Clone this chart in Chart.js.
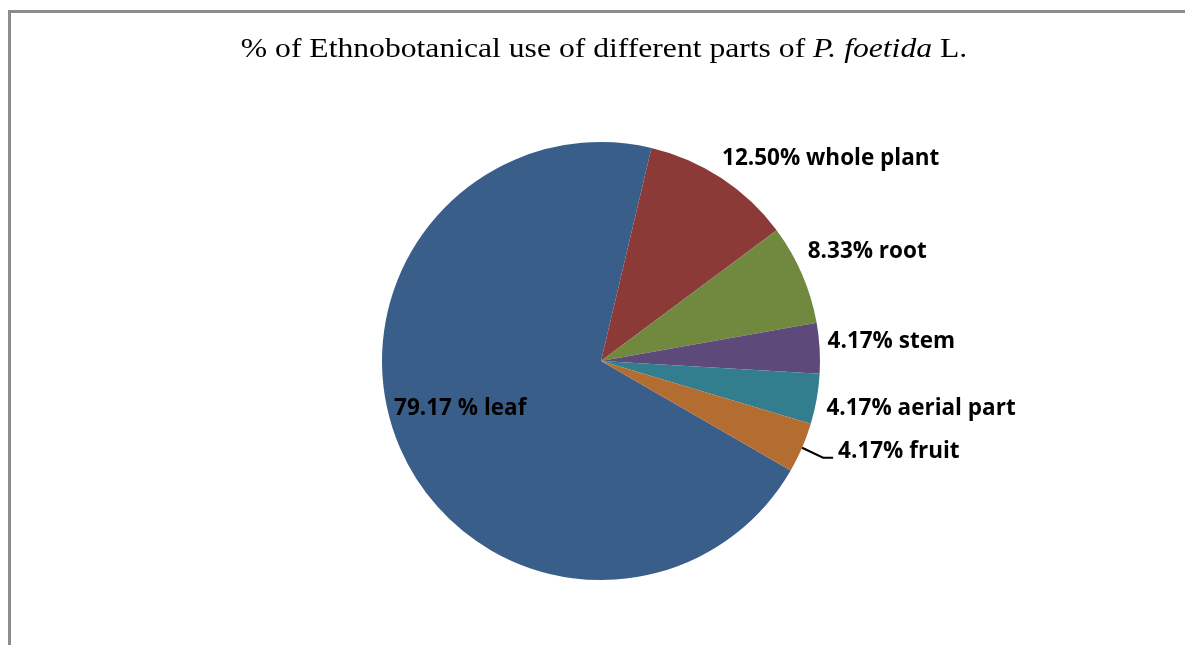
<!DOCTYPE html>
<html>
<head>
<meta charset="utf-8">
<script src="https://cdn.jsdelivr.net/npm/chart.js@4.4.1/dist/chart.umd.min.js"></script>
<style>
  html, body { margin: 0; padding: 0; background: #fff; overflow: hidden; }
  #frame {
    position: absolute; left: 8px; top: 10px; width: 1300px; height: 800px;
    border-left: 3px solid #8c8c8c; border-top: 3px solid #8c8c8c;
  }
  #chart { position: absolute; left: 0; top: 0; }
</style>
</head>
<body>
<div id="frame"></div>
<canvas id="chart" width="1185" height="645"></canvas>
<script>
// plant parts and their share of ethnobotanical use (%)
var parts = ['leaf', 'whole plant', 'root', 'stem', 'aerial part', 'fruit'];
var percents = [79.17, 12.50, 8.33, 4.17, 4.17, 4.17];
var colours = ['#3A5E8A', '#8B3A38', '#71893F', '#5E4A7A', '#327D8E', '#B46D31'];

// label placement: leaf sits inside, fruit gets a leader line, others outside
var labelMode = ['inside', 'outside', 'outside', 'outside', 'outside', 'leader'];
var labelNudge = [[0, -13], [-8, -6], [-9, -16], [-8, -6], [-6, 7], [0, 0]];

function labelText(i) {
    var pct = percents[i].toFixed(2) + (i === 0 ? ' %' : '%');
    return pct + ' ' + parts[i];
}

var titlePlugin = {
    id: 'mixedTitle',
    afterDraw: function (chart) {
        var c = chart.ctx;
        var stretch = 1.13;
        var pieces = [
            ['normal', '% of Ethnobotanical use of different parts of '],
            ['italic', 'P. foetida'],
            ['normal', ' L.']
        ];
        c.save();
        c.fillStyle = '#000';
        c.textBaseline = 'alphabetic';
        var total = 0;
        pieces.forEach(function (p) {
            c.font = p[0] + ' 28px "Liberation Serif", "Times New Roman", serif';
            p.push(c.measureText(p[1]).width);
            total += p[2];
        });
        // slightly wide serif heading
        c.translate(604 - total * stretch / 2, 57);
        c.scale(stretch, 1);
        var x = 0;
        pieces.forEach(function (p) {
            c.font = p[0] + ' 28px "Liberation Serif", "Times New Roman", serif';
            c.fillText(p[1], x, 0);
            x += p[2];
        });
        c.restore();
    }
};

var sliceLabels = {
    id: 'sliceLabels',
    afterDatasetsDraw: function (chart) {
        var c = chart.ctx;
        var arcs = chart.getDatasetMeta(0).data;
        c.save();
        c.font = 'bold 22.5px "Open Sans", "Noto Sans", sans-serif';
        c.fillStyle = '#000';
        c.textBaseline = 'middle';
        arcs.forEach(function (arc, i) {
            var mid = (arc.startAngle + arc.endAngle) / 2;
            var cos = Math.cos(mid), sin = Math.sin(mid);
            var nx = labelNudge[i][0], ny = labelNudge[i][1];
            if (labelMode[i] === 'inside') {
                var r = arc.outerRadius * 0.7;
                c.textAlign = 'center';
                c.fillText(labelText(i), arc.x + cos * r + nx, arc.y + sin * r + ny);
            } else if (labelMode[i] === 'outside') {
                var ro = arc.outerRadius + 16;
                c.textAlign = 'left';
                c.fillText(labelText(i), arc.x + cos * ro + nx, arc.y + sin * ro + ny);
            } else {
                // short elbow leader from the slice edge
                var ex = arc.x + cos * arc.outerRadius, ey = arc.y + sin * arc.outerRadius;
                var kx = ex + 21, ky = ey + 10;
                c.strokeStyle = '#000';
                c.lineWidth = 2;
                c.beginPath();
                c.moveTo(ex, ey);
                c.lineTo(kx, ky);
                c.lineTo(kx + 10, ky);
                c.stroke();
                c.textAlign = 'left';
                c.fillText(labelText(i), kx + 15, ky - 6);
            }
        });
        c.restore();
    }
};

var ctx = document.getElementById('chart').getContext('2d');
var chart = new Chart(ctx, {
    type: 'pie',
    data: {
        labels: parts,
        datasets: [{
            data: percents,
            backgroundColor: colours,
            borderWidth: 0,
            hoverOffset: 0
        }]
    },
    options: {
        responsive: false,
        animation: false,
        rotation: 120,
        layout: { padding: { top: 142, bottom: 65, left: 100, right: 83 } },
        plugins: {
            legend: { display: false },
            tooltip: { enabled: false },
            title: { display: false }
        }
    },
    plugins: [sliceLabels, titlePlugin]
});
</script>
</body>
</html>
